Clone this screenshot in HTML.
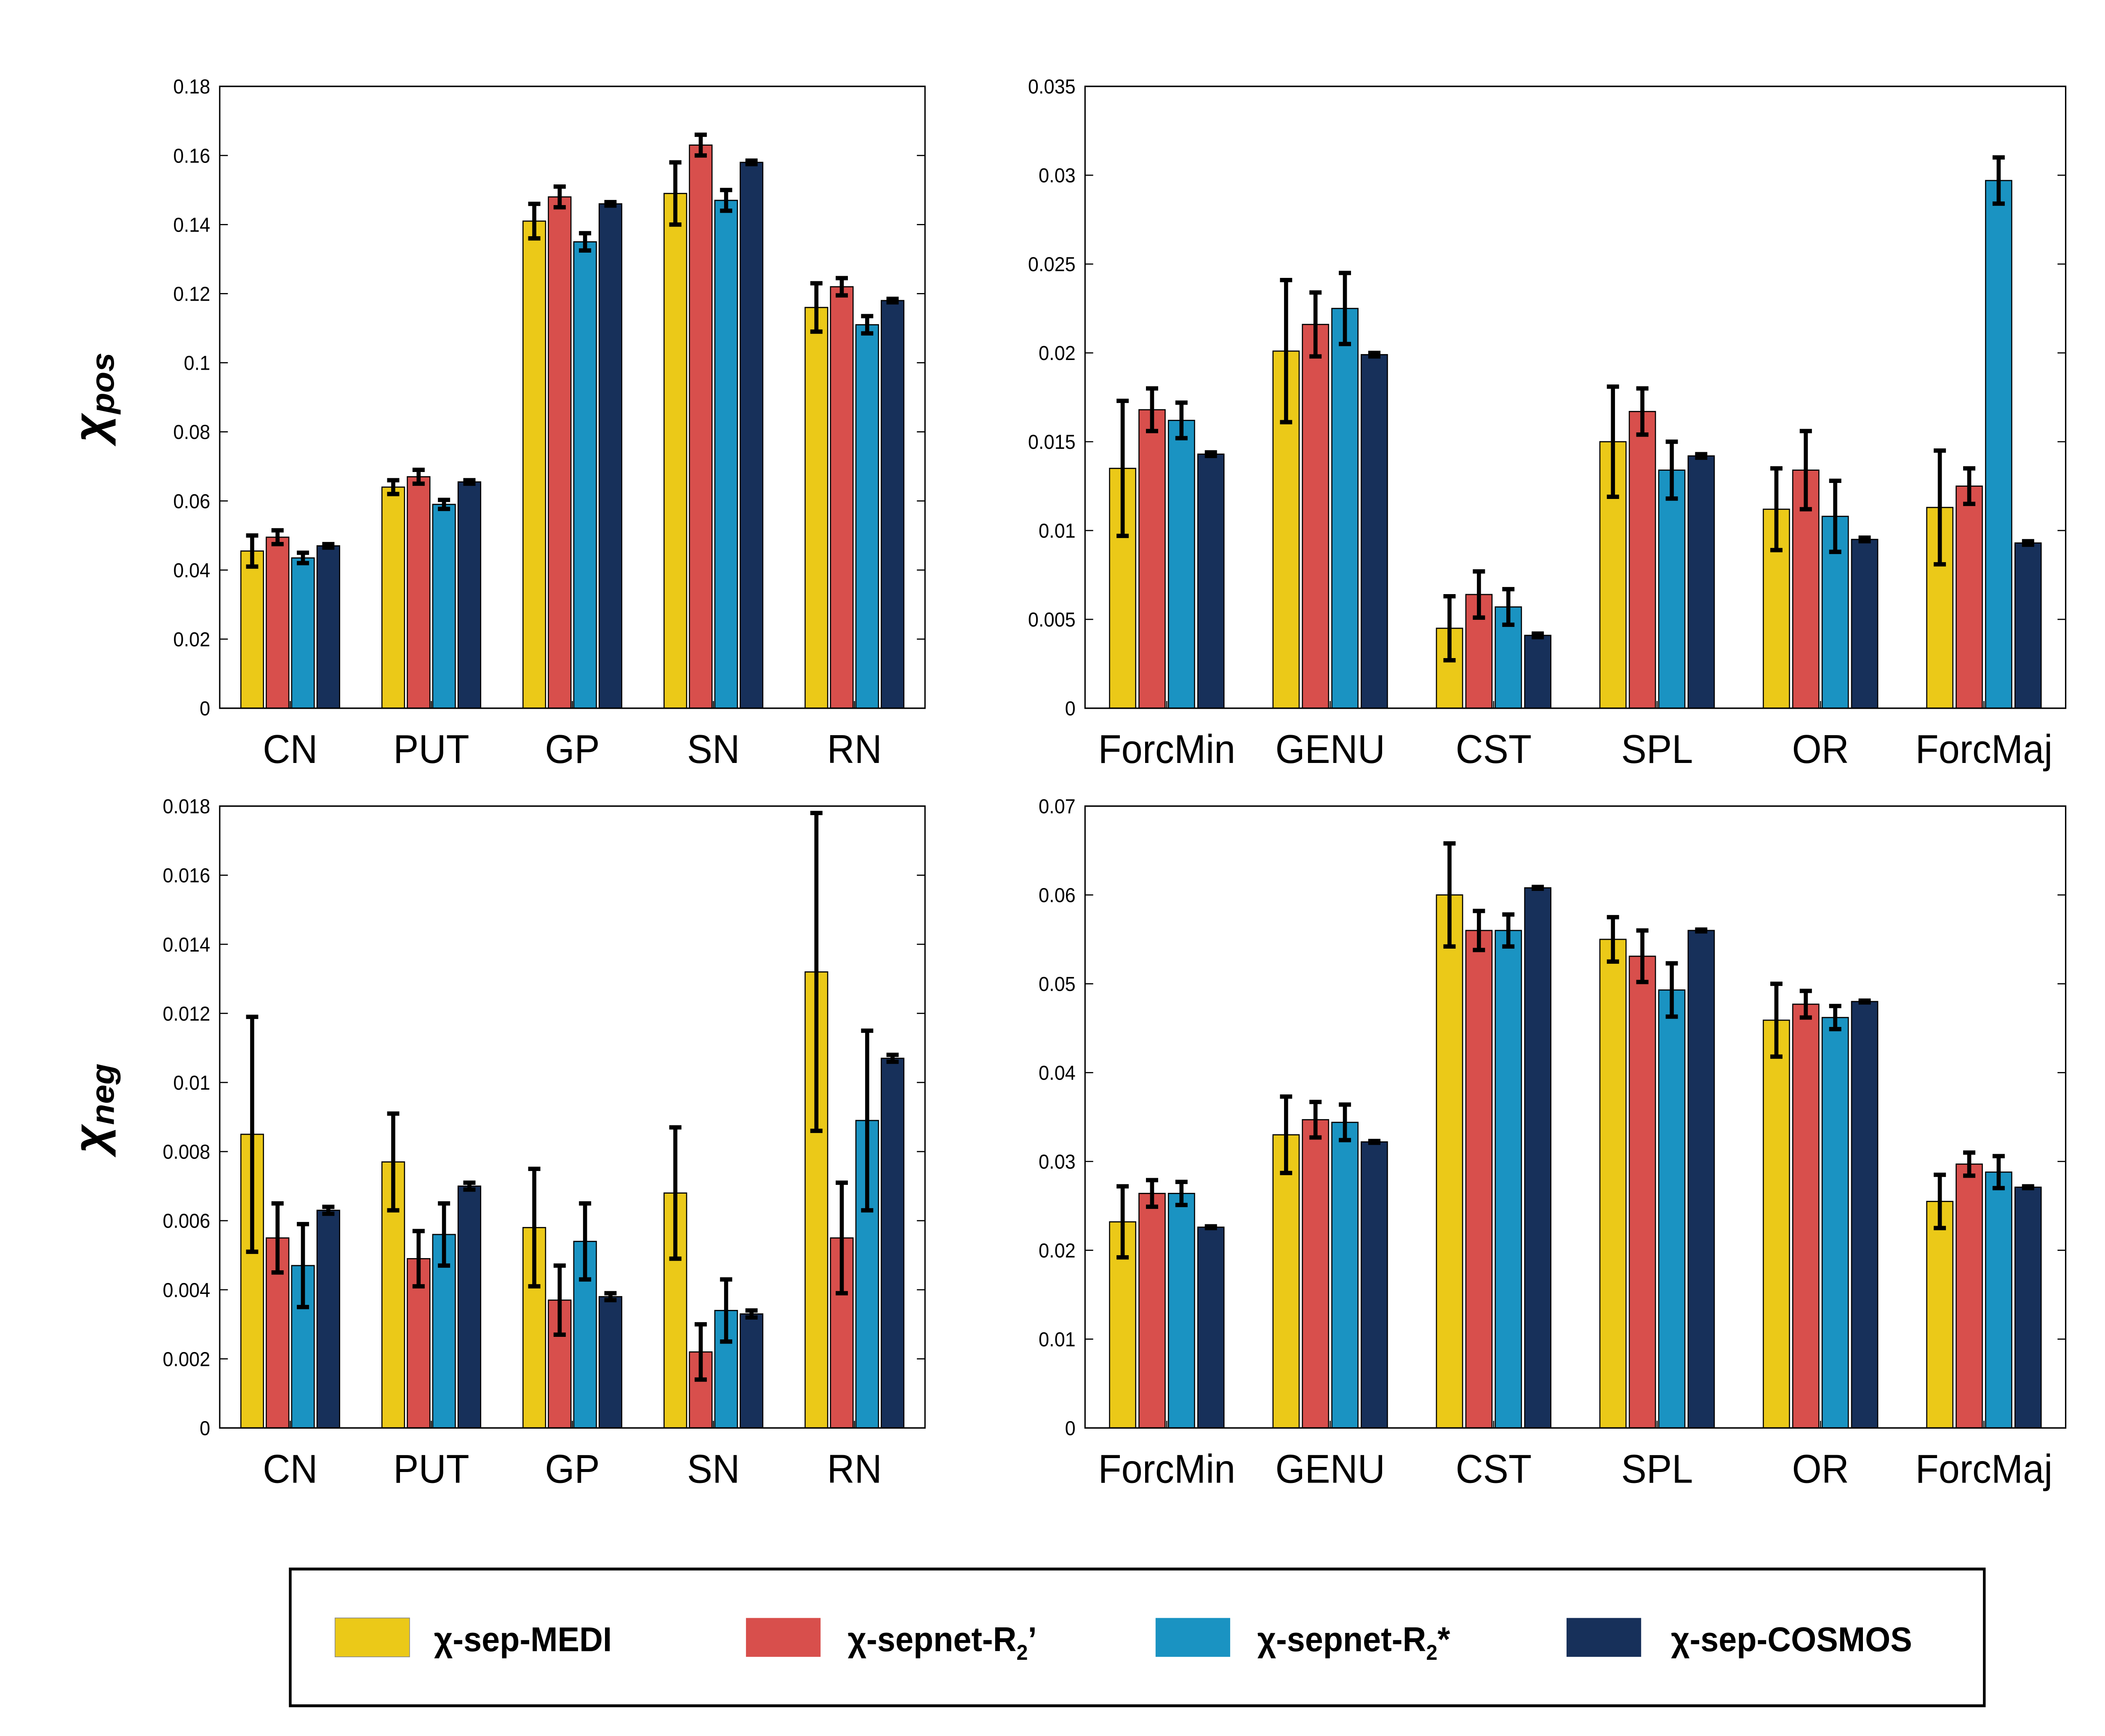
<!DOCTYPE html>
<html><head><meta charset="utf-8">
<style>
html,body{margin:0;padding:0;background:#fff;overflow:hidden;width:100%;height:100%;}
svg{display:block;width:100vw;height:100vh;}
text{font-family:"Liberation Sans","DejaVu Sans",sans-serif;}
</style></head>
<body>
<svg id="fig" viewBox="0 0 1552 1206" preserveAspectRatio="none" xmlns="http://www.w3.org/2000/svg">
<rect width="1552" height="1206" fill="#fff"/>
<text transform="translate(78,276) rotate(-90)" text-anchor="middle" font-family="Liberation Serif, serif" font-style="italic" font-weight="bold" font-size="34">χ<tspan font-size="24" dy="6">pos</tspan></text>
<text transform="translate(78,770) rotate(-90)" text-anchor="middle" font-family="Liberation Serif, serif" font-style="italic" font-weight="bold" font-size="34">χ<tspan font-size="24" dy="6">neg</tspan></text>
<g>
<rect x="214" y="1090" width="1249" height="95" fill="#fff" stroke="#000" stroke-width="2"/>
<rect x="247" y="1124" width="55" height="27" fill="#EBC918" stroke="#888" stroke-width="0.5"/>
<text x="320" y="1147" font-size="24" font-weight="bold">χ-sep-MEDI</text>
<rect x="550" y="1124" width="55" height="27" fill="#D84F4C"/>
<text x="625" y="1147" font-size="24" font-weight="bold">χ-sepnet-R<tspan font-size="15" dy="6">2</tspan><tspan dy="-6">’</tspan></text>
<rect x="852" y="1124" width="55" height="27" fill="#1A93C2"/>
<text x="927" y="1147" font-size="24" font-weight="bold">χ-sepnet-R<tspan font-size="15" dy="6">2</tspan><tspan dy="-6">*</tspan></text>
<rect x="1155" y="1124" width="55" height="27" fill="#17305A"/>
<text x="1232" y="1147" font-size="24" font-weight="bold">χ-sep-COSMOS</text>
</g>
</svg>
<script>
const colors=["#EBC918","#D84F4C","#1A93C2","#17305A"];
const catsDGM=["CN","PUT","GP","SN","RN"];
const catsWM=["ForcMin","GENU","CST","SPL","OR","ForcMaj"];
const tlMean=[[.0455,.0495,.0435,.047],[.064,.067,.059,.0655],[.141,.148,.135,.146],[.149,.163,.147,.158],[.116,.122,.111,.118]];
const tlErr=[[.0045,.002,.0015,.0005],[.002,.002,.0013,.0005],[.005,.003,.0025,.0005],[.009,.003,.003,.0005],[.007,.0025,.0025,.0005]];
const trMean=[[.0135,.0168,.0162,.0143],[.0201,.0216,.0225,.0199],[.0045,.0064,.0057,.0041],[.0150,.0167,.0134,.0142],[.0112,.0134,.0108,.0095],[.0113,.0125,.0297,.0093]];
const trErr=[[.0038,.0012,.001,.0001],[.004,.0018,.002,.0001],[.0018,.0013,.001,.0001],[.0031,.0013,.0016,.0001],[.0023,.0022,.002,.0001],[.0032,.001,.0013,.0001]];
const blMean=[[.0085,.0055,.0047,.0063],[.0077,.0049,.0056,.0070],[.0058,.0037,.0054,.0038],[.0068,.0022,.0034,.0033],[.0132,.0055,.0089,.0107]];
const blErr=[[.0034,.001,.0012,.0001],[.0014,.0008,.0009,.0001],[.0017,.001,.0011,.0001],[.0019,.0008,.0009,.0001],[.0046,.0016,.0026,.0001]];
const brMean=[[.0232,.0264,.0264,.0226],[.033,.0347,.0344,.0322],[.060,.056,.056,.0608],[.055,.0531,.0493,.0560],[.0459,.0477,.0462,.0480],[.0255,.0297,.0288,.0271]];
const brErr=[[.004,.0015,.0013,.0001],[.0043,.002,.002,.0001],[.0058,.0022,.0018,.0001],[.0025,.0029,.003,.0001],[.0041,.0015,.0013,.0001],[.003,.0013,.0018,.0001]];
const tlTicks=["0","0.02","0.04","0.06","0.08","0.1","0.12","0.14","0.16","0.18"];
const trTicks=["0","0.005","0.01","0.015","0.02","0.025","0.03","0.035"];
const blTicks=["0","0.002","0.004","0.006","0.008","0.01","0.012","0.014","0.016","0.018"];
const brTicks=["0","0.01","0.02","0.03","0.04","0.05","0.06","0.07"];
const NS="http://www.w3.org/2000/svg";
const svg=document.getElementById('fig');
function mk(tag,attrs,parent){const e=document.createElementNS(NS,tag);for(const k in attrs)e.setAttribute(k,attrs[k]);(parent||svg).appendChild(e);return e;}
function panel(name,x0,x1,y0,y1,ymax,ticks,cats,mean,err){
  const g=mk('g',{});
  
  
  const ys=v=>y1-(v/ymax)*(y1-y0);
  const gw=(x1-x0)/cats.length;
  const xs=i=>x0+gw*(i+0.5);
  const step=gw*0.18, bw=gw*0.16;
  ticks.forEach(t=>{const v=parseFloat(t),y=ys(v);
    const l=mk('line',{x1:x0,x2:x0+6,y1:y,y2:y,stroke:'#000','stroke-width':0.8},g);
    
    mk('line',{x1:x1,x2:x1-6,y1:y,y2:y,stroke:'#000','stroke-width':0.8},g);
    const tx=mk('text',{x:x0-7,y:y+5,'text-anchor':'end','font-size':14},g);tx.textContent=t;
    
  });
  cats.forEach((c,i)=>{
    const cx=xs(i);
    mk('line',{x1:cx,x2:cx,y1:y1,y2:y1-5,stroke:'#000','stroke-width':0.8},g);
    const t=mk('text',{x:cx,y:y1+38,'text-anchor':'middle','font-size':28},g);t.textContent=c;
    
    for(let s=0;s<4;s++){
      const bx=cx+(s-1.5)*step, v=mean[i][s], e=err[i][s];
      const r=mk('rect',{x:bx-bw/2,y:ys(v),width:bw,height:y1-ys(v),fill:colors[s],stroke:'#000','stroke-width':0.8},g);
      
      
      const eg=mk('g',{stroke:'#000','stroke-width':3},g);
      
      
      mk('line',{x1:bx,x2:bx,y1:ys(v-e),y2:ys(v+e)},eg);
      mk('line',{x1:bx-4.5,x2:bx+4.5,y1:ys(v-e),y2:ys(v-e)},eg);
      mk('line',{x1:bx-4.5,x2:bx+4.5,y1:ys(v+e),y2:ys(v+e)},eg);
    }
  });
  const b=mk('rect',{x:x0,y:y0,width:x1-x0,height:y1-y0,fill:'none',stroke:'#000','stroke-width':1},g);
  
}
panel('chart-pos-deep-gm',162,682,60,492,0.18,tlTicks,catsDGM,tlMean,tlErr);
panel('chart-pos-wm',800,1523,60,492,0.035,trTicks,catsWM,trMean,trErr);
panel('chart-neg-deep-gm',162,682,560,992,0.018,blTicks,catsDGM,blMean,blErr);
panel('chart-neg-wm',800,1523,560,992,0.07,brTicks,catsWM,brMean,brErr);
</script>
</body></html>
